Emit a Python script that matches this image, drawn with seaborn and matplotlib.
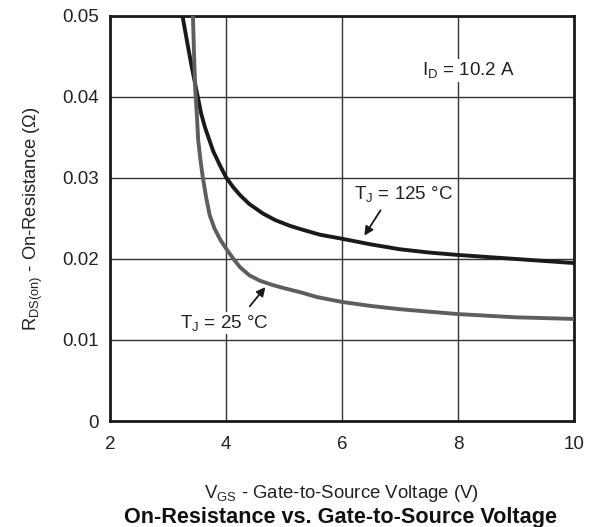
import matplotlib
matplotlib.use("Agg")
import matplotlib.pyplot as plt
import seaborn as sns
import pandas as pd

# Data
vgs_125 = [3.25, 3.33, 3.41, 3.50, 3.57, 3.64, 3.78, 3.90, 4.00, 4.12, 4.24, 4.40, 4.64, 4.85,
           5.10, 5.28, 5.62, 6.0, 6.5, 7.0, 7.5, 8.0, 9.0, 10.0]
rds_125 = [0.0500, 0.0468, 0.0437, 0.0405, 0.0380, 0.0362, 0.0333, 0.0315, 0.0301, 0.0289, 0.0279,
           0.0268, 0.0256, 0.0248, 0.0241, 0.0237, 0.0230, 0.0225, 0.0218, 0.0212, 0.0208, 0.0205,
           0.0200, 0.0195]
vgs_25 = [3.43, 3.45, 3.47, 3.50, 3.52, 3.56, 3.60, 3.66, 3.72, 3.80, 3.90, 4.00, 4.12, 4.24,
          4.40, 4.59, 4.80, 5.00, 5.28, 5.57, 6.0, 6.5, 7.0, 8.0, 9.0, 10.0]
rds_25 = [0.0500, 0.0450, 0.0409, 0.0375, 0.0347, 0.0322, 0.0301, 0.0275, 0.0254, 0.0238, 0.0224,
          0.0213, 0.0201, 0.0190, 0.0180, 0.0173, 0.0168, 0.0164, 0.0159, 0.0153, 0.0147, 0.0142,
          0.0138, 0.0132, 0.0128, 0.0126]

x_ticks = [2, 4, 6, 8, 10]
y_ticks = [0, 0.01, 0.02, 0.03, 0.04, 0.05]
y_tick_labels = ["0", "0.01", "0.02", "0.03", "0.04", "0.05"]

sns.set_theme(style="white")
plt.rcParams['font.family'] = ['Liberation Sans', 'DejaVu Sans']
plt.rcParams['mathtext.fontset'] = 'custom'
plt.rcParams['mathtext.rm'] = 'Liberation Sans'
plt.rcParams['mathtext.it'] = 'Liberation Sans'

df = pd.concat([
    pd.DataFrame({"VGS": vgs_125, "RDS": rds_125, "T": "125"}),
    pd.DataFrame({"VGS": vgs_25, "RDS": rds_25, "T": "25"}),
])

fig = plt.figure(figsize=(5.95, 5.27), dpi=100)
ax = fig.add_axes([110/595, 1-421/527, (574-110)/595, (421-16)/527])

sns.lineplot(data=df, x="VGS", y="RDS", hue="T", palette={"125": "#1a1a1a", "25": "#5e5e5e"},
             linewidth=2.8, legend=False, ax=ax, sort=False, estimator=None, zorder=3)
for ln in ax.get_lines():
    ln.set_solid_joinstyle('round')
    ln.set_solid_capstyle('butt')

ax.set_xlim(2, 10)
ax.set_ylim(0, 0.05)
ax.set_xticks(x_ticks)
ax.set_xticklabels([str(t) for t in x_ticks])
ax.set_yticks(y_ticks)
ax.set_yticklabels(y_tick_labels)
ax.tick_params(axis='both', labelsize=13.5, colors='#222222', length=0, pad=8)
ax.tick_params(axis='x', pad=11)
ax.grid(True, color='#333333', linewidth=1.0)
for s in ax.spines.values():
    s.set_color('#1a1a1a')
    s.set_linewidth(2)
    s.set_visible(True)

ax.set_xlabel(r"$\mathregular{V_{GS}}$ - Gate-to-Source Voltage (V)", fontsize=13.4, color='#222222', labelpad=21.5)
ax.set_ylabel(r"$\mathregular{R_{DS(on)}}$ - On-Resistance (Ω)", fontsize=13.2, color='#222222', labelpad=12)

ax.text(7.38, 0.0433, r"$\mathregular{I_D}$ = 10.2 A", fontsize=13.5, color='#222222', va='center', ha='left',
        bbox=dict(facecolor='white', edgecolor='none', pad=1))
ax.text(6.2, 0.0280, r"$\mathregular{T_J}$ = 125 °C", fontsize=13.5, color='#222222', va='center', ha='left')
ax.annotate("", xy=(6.36, 0.0226), xytext=(6.69, 0.0263),
            arrowprops=dict(arrowstyle="-|>", color='#1a1a1a', lw=1.3, mutation_scale=13))
ax.text(3.21, 0.0121, r"$\mathregular{T_J}$ = 25 °C", fontsize=13.5, color='#222222', va='center', ha='left',
        bbox=dict(facecolor='white', edgecolor='none', pad=1))
ax.annotate("", xy=(4.71, 0.0168), xytext=(4.38, 0.0139),
            arrowprops=dict(arrowstyle="-|>", color='#1a1a1a', lw=1.3, mutation_scale=13))

fig.text(341/595, 1-518/527, "On-Resistance vs. Gate-to-Source Voltage", fontsize=15.6, fontweight='bold',
         ha='center', va='center', color='#111111')

fig.savefig("out.png", dpi=100)
